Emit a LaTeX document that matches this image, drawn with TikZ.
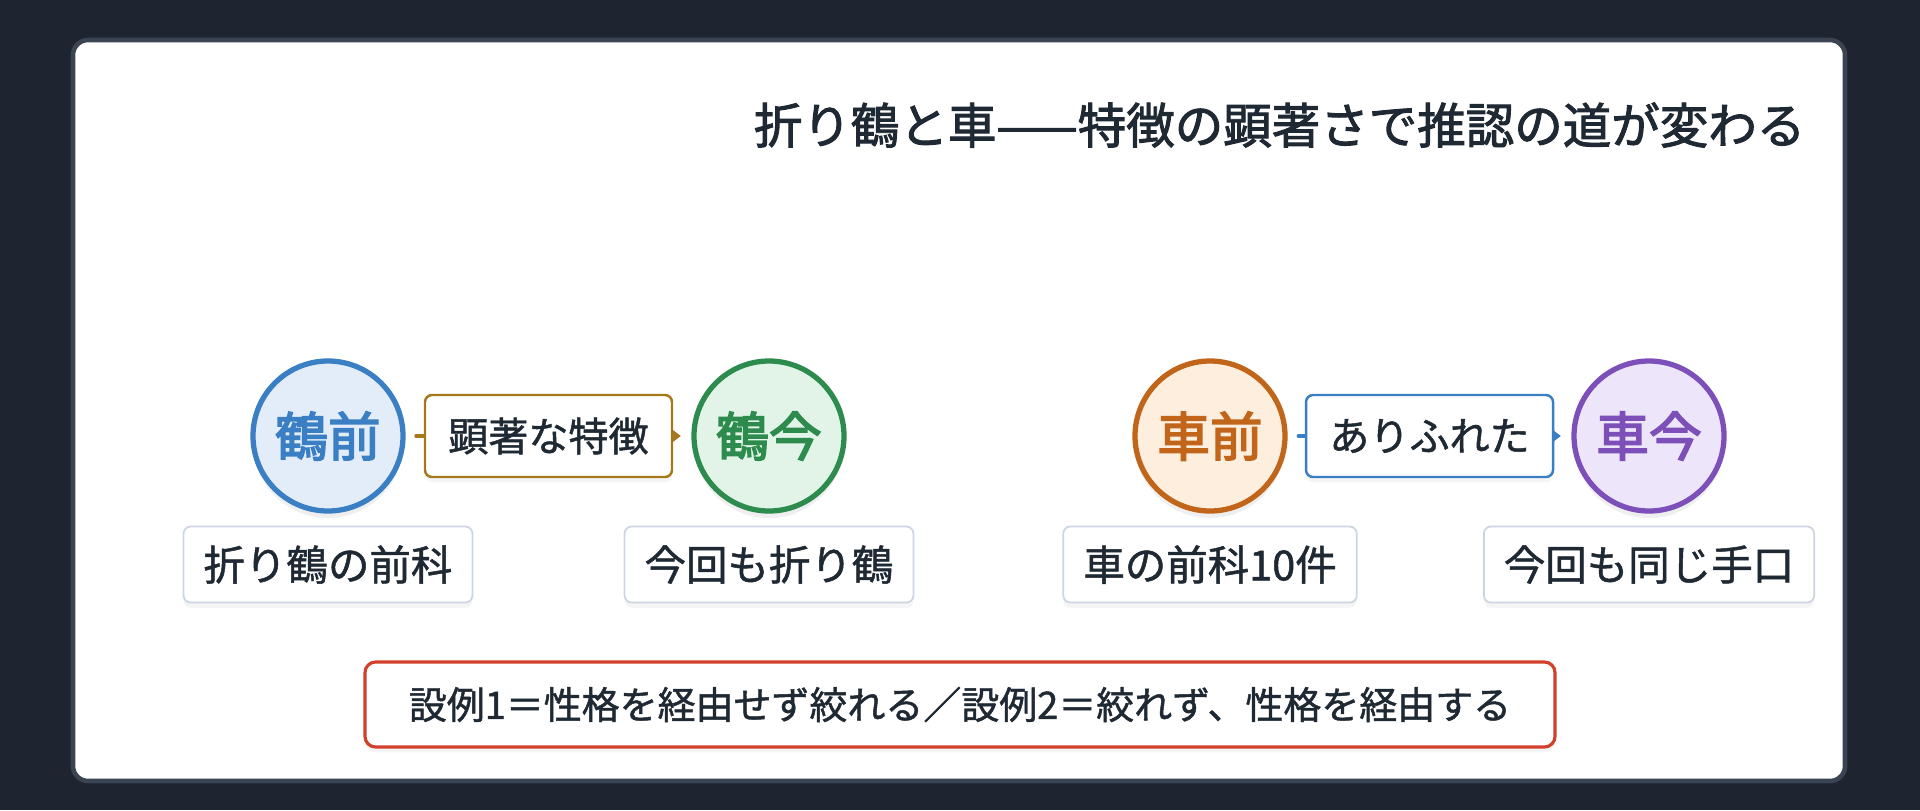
\documentclass[tikz,border=0pt]{standalone}
\usepackage{fontspec}
\setmainfont{Noto Sans CJK JP}
\newfontfamily\ringfont{Noto Sans CJK JP}[FakeBold=3]
\newfontfamily\medfont{Noto Sans CJK JP}[FakeBold=2]
\newfontfamily\semifont{Noto Sans CJK JP}[FakeBold=1.2]
\usepackage{xcolor}
\usetikzlibrary{positioning,arrows.meta,shadows}

\definecolor{pagebg}{HTML}{1E2430}
\definecolor{cardline}{HTML}{3A4452}
\definecolor{ink}{HTML}{1F2933}
\definecolor{craneblue}{HTML}{3A7FC4}
\definecolor{craneblueFill}{HTML}{E3EDF9}
\definecolor{cranegreen}{HTML}{2E8B4E}
\definecolor{cranegreenFill}{HTML}{E2F4E7}
\definecolor{carorange}{HTML}{C0651A}
\definecolor{carorangeFill}{HTML}{FDEEDD}
\definecolor{carpurple}{HTML}{7D4FB8}
\definecolor{carpurpleFill}{HTML}{EDE5F9}
\definecolor{tagGold}{HTML}{A6781C}
\definecolor{factline}{HTML}{CCD5E0}
\definecolor{noteRed}{HTML}{D0402B}

\begin{document}
\begin{tikzpicture}[
    ringnode/.style={circle, minimum size=1.5cm, inner sep=0pt, line width=1.5pt,
      font=\fontsize{15}{18}\ringfont,
      drop shadow={opacity=0.12, shadow xshift=0pt, shadow yshift=-2pt}},
    tagbox/.style={draw, fill=white, rounded corners=2pt, line width=0.7pt,
      minimum width=2.47cm, minimum height=0.82cm, text=ink,
      font=\fontsize{11.4}{14}\semifont,
      drop shadow={opacity=0.08, shadow xshift=0pt, shadow yshift=-1.5pt}},
    factbox/.style={draw=factline, fill=white, rounded corners=2pt, line width=0.5pt,
      minimum height=0.76cm, inner xsep=0.2cm, text=ink,
      font=\fontsize{11.8}{14}\semifont,
      drop shadow={opacity=0.08, shadow xshift=0pt, shadow yshift=-1.5pt}},
    link/.style={line width=1.1pt, line cap=round, -{Stealth[length=4pt,width=6pt]},
      shorten <=3pt, shorten >=3pt}
  ]
    \def\ry{3.74}; %row of the circles%
    \def\gap{0.12cm};

    % background and card
    \fill[pagebg] (0,0) rectangle (19.2,8.1);
    \draw[fill=white, draw=cardline, line width=1.3pt, rounded corners=0.15cm] (0.73,0.29) rectangle (18.45,7.70);

    \node[anchor=east, inner sep=0pt, text=ink, font=\fontsize{13.8}{16}\medfont] (title) at (18.06,6.85) {折り鶴と車——特徴の顕著さで推認の道が変わる};

    % circles
    \node[ringnode, draw=craneblue, fill=craneblueFill, text=craneblue] (tsuruMae) at (3.28,\ry) {鶴前};
    \node[ringnode, draw=cranegreen, fill=cranegreenFill, text=cranegreen] (tsuruIma) at (7.69,\ry) {鶴今};
    \node[ringnode, draw=carorange, fill=carorangeFill, text=carorange] (kurumaMae) at (12.10,\ry) {車前};
    \node[ringnode, draw=carpurple, fill=carpurpleFill, text=carpurple] (kurumaIma) at (16.49,\ry) {車今};

    % links with their tags
    \draw[link, tagGold] (tsuruMae) -- node[tagbox, draw=tagGold] (tagSalient) {顕著な特徴} (tsuruIma);
    \draw[link, craneblue, line width=0.9pt] (kurumaMae) -- node[tagbox, draw=craneblue] (tagCommon) {ありふれた} (kurumaIma);

    % facts under the circles
    \node[factbox, below=\gap of tsuruMae] (factTsuruMae) {折り鶴の前科};
    \node[factbox, below=\gap of tsuruIma] (factTsuruIma) {今回も折り鶴};
    \node[factbox, below=\gap of kurumaMae] (factKurumaMae) {車の前科10件};
    \node[factbox, below=\gap of kurumaIma] (factKurumaIma) {今回も同じ手口};

    % bottom note
    \node[draw=noteRed, fill=white, line width=0.9pt, rounded corners=3pt, text=ink,
      minimum width=11.9cm, minimum height=0.85cm, font=\fontsize{10.8}{13}\semifont,
      drop shadow={opacity=0.08, shadow xshift=0pt, shadow yshift=-1.5pt}]
      (note) at (9.60,1.055) {設例1＝性格を経由せず絞れる／設例2＝絞れず、性格を経由する};
\end{tikzpicture}
\end{document}
